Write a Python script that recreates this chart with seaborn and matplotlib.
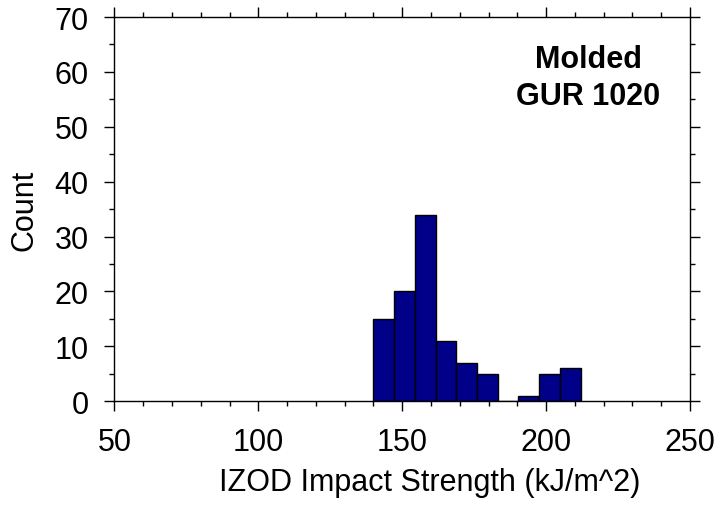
import numpy as np
import pandas as pd
import matplotlib
matplotlib.use("Agg")
import matplotlib.pyplot as plt
from matplotlib.ticker import MultipleLocator
import seaborn as sns

# Data
bin_edges = [140.0, 147.2, 154.4, 161.6, 168.8, 176.0, 183.2, 190.4, 197.6, 204.8, 212.0]
counts = [15, 20, 34, 11, 7, 5, 0, 1, 5, 6]
x_ticks = [50, 100, 150, 200, 250]
y_ticks = [0, 10, 20, 30, 40, 50, 60, 70]
annotation_lines = ["Molded", "GUR 1020"]
x_label = "IZOD Impact Strength (kJ/m^2)"
y_label = "Count"

sns.set_style("ticks")
plt.rcParams["font.family"] = ["Liberation Sans", "DejaVu Sans"]
plt.rcParams["text.color"] = "black"
plt.rcParams["axes.labelcolor"] = "black"
plt.rcParams["xtick.color"] = "black"
plt.rcParams["ytick.color"] = "black"
plt.rcParams["xtick.labelcolor"] = "black"
plt.rcParams["ytick.labelcolor"] = "black"

centers = [(a + b) / 2 for a, b in zip(bin_edges[:-1], bin_edges[1:])]
df = pd.DataFrame({"value": centers, "count": counts})

fig = plt.figure(figsize=(7.21, 5.06), dpi=100)
ax = fig.add_axes([0.1588, 0.205, 0.7982, 0.7594])

sns.histplot(data=df, x="value", weights="count", bins=bin_edges, ax=ax,
             color="#000088", edgecolor="black", linewidth=1.0, alpha=1.0)

ax.set_xlim(50, 250)
ax.set_ylim(0, 70)
ax.set_xticks(x_ticks)
ax.set_yticks(y_ticks)
ax.xaxis.set_minor_locator(MultipleLocator(10))
ax.yaxis.set_minor_locator(MultipleLocator(5))

for s in ax.spines.values():
    s.set_visible(True)
    s.set_linewidth(1.0)
    s.set_color("black")

ax.tick_params(which="both", direction="out", top=True, right=True,
               labeltop=False, labelright=False, color="black",
               labelcolor="black", width=1.0)
ax.tick_params(which="major", length=7.5, labelsize=22, pad=11)
ax.tick_params(which="minor", length=3.5)

ax.set_xlabel(x_label, fontsize=22, color="black")
ax.set_ylabel(y_label, fontsize=22, labelpad=11, color="black")
ax.xaxis.set_label_coords(0.548, -0.171)

ax.text(0.823, 0.870, annotation_lines[0], transform=ax.transAxes,
        ha="center", va="baseline", fontsize=22, fontweight="bold", color="black")
ax.text(0.823, 0.774, annotation_lines[1], transform=ax.transAxes,
        ha="center", va="baseline", fontsize=22, fontweight="bold", color="black")

fig.savefig("out.png", dpi=100)
